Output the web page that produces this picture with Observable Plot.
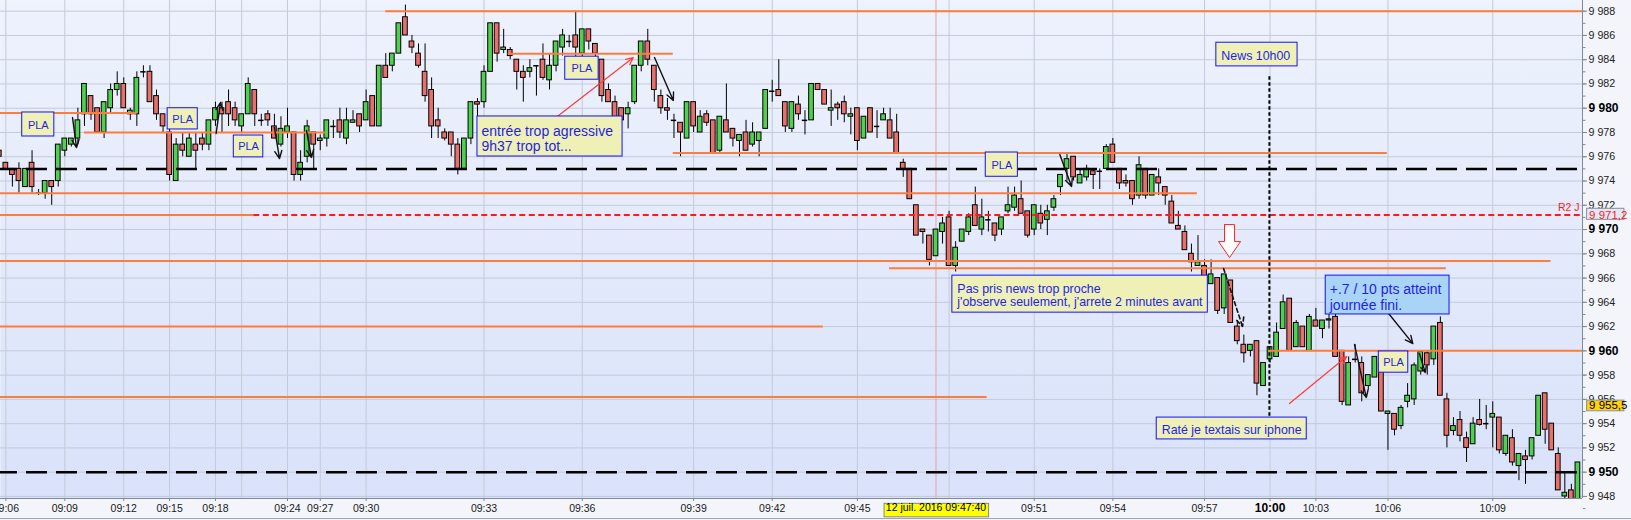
<!DOCTYPE html>
<html><head><meta charset="utf-8">
<script src="https://cdn.jsdelivr.net/npm/d3@7"></script>
<script src="https://cdn.jsdelivr.net/npm/@observablehq/plot@0.6"></script>
<style>
html,body{margin:0;padding:0;background:#f3f5fa;}
#chart{width:1631px;height:520px;overflow:hidden;}
svg{display:block;}
</style></head><body><div id="chart"></div>
<script>
// ---- candle data (one candle per index) ----
const opens = [
9976.5,9975.5,9975,9975,9973.5,9975.5,9973,9973,9974,9974,
9976.5,9977,9977.5,9979.5,9981,9980,9978,9980,9981.5,9982,
9979.5,9979.5,9983,9983,9981,9979.5,9978,9974,9977,9976,
9977,9977.5,9977,9979,9980,9980.5,9980,9978.5,9979.5,9981.5,
9979,9979.5,9978.5,9977,9978,9978,9974.5,9976,9978,9977.3,
9977.5,9978.5,9979,9977.5,9978.8,9979.5,9979,9981,9978.5,9983.5,
9983.5,9984.5,9987.5,9985.5,9984.5,9983,9981.5,9979,9978,9978,
9977,9975,9977.5,9980.5,9980.5,9983,9987,9984.8,9984.8,9984,
9983,9983,9983.5,9984,9982.3,9983.5,9985,9985.5,9986,9984.5,
9986.5,9985.3,9984,9981.5,9980.5,9980,9979.5,9980.5,9983.5,9985.5,
9983.5,9981,9980,9979,9978.8,9977.5,9980.5,9978,9979.5,9979,
9976.5,9979,9978.3,9977.3,9978,9977,9977.3,9978.3,9981.4,9981.5,
9980.5,9978.3,9980.3,9979,9979,9982,9981.5,9979.8,9980.3,9980.5,
9979.3,9980,9977.5,9980,9978.5,9979,9979,9978,9975.5,9975,
9972,9970,9969.5,9967.8,9969.8,9971,9967,9969,9969.8,9972,
9970,9970.8,9970.5,9970,9971.5,9971.8,9972.5,9971.5,9970,9971.3,
9970.8,9971.8,9973.5,9975,9976,9973.8,9974.3,9974.8,9974.8,9975,
9977,9975,9974,9974,9972.8,9975,9972.8,9974.3,9973.5,9972.3,
9970.3,9969.8,9968,9967,9967,9965.5,9966,9963.5,9965.8,9962,
9960.5,9960,9960.8,9957.1,9959.3,9959.5,9961.8,9964.3,9960.3,9962,
9960,9962.5,9961.8,9962.5,9962.8,9960,9955.5,9959.3,9959,9957.1,
9957.8,9959,9954.8,9954.8,9953.8,9955.8,9956,9958.3,9959.8,9959.3,
9962.3,9956,9953.4,9954.3,9952.8,9952.3,9954.3,9954,9954.5,9954.5,
9951.5,9952.8,9950.5,9951.3,9951.3,9953,9956.5,9954,9951.5,9948,
9948.5,9947.5];
const highs = [
9977,9975.5,9975,9975.5,9975,9976.5,9973.3,9974,9974,9977,
9977.5,9977.5,9980,9982,9981,9980,9980.5,9982,9983,9982.5,
9980,9983,9983.5,9983.5,9981.5,9979.5,9978.5,9977.5,9978,9978,
9978,9978,9979,9980.5,9980.5,9981.5,9980.5,9979.5,9982.5,9981.5,
9979.5,9979.8,9979.5,9979.3,9980,9978,9976.5,9979,9978,9977.8,
9979,9979,9980,9980,9979.8,9979.5,9981.5,9981,9983.5,9984.5,
9984.5,9987,9988.5,9986,9985.3,9985.3,9982.5,9980,9978.3,9978,
9977.5,9977.5,9980.5,9980.8,9983.5,9987,9987,9986.5,9985,9984,
9983.5,9984,9983.5,9985.3,9984.5,9985.5,9986.5,9986,9988,9986.5,
9986.5,9985.3,9984,9982,9981,9980,9980.5,9983.5,9985.5,9986.5,
9983.5,9981.5,9980.8,9979.5,9978.8,9980.5,9980.5,9979.8,9979.8,9979,
9979.3,9982,9978.3,9977.8,9979,9978.8,9978,9981.5,9982.3,9984,
9980.5,9980.5,9981,9979.8,9982,9982,9981.5,9981.5,9980.5,9981,
9980,9980,9979.3,9980,9979.8,9980,9980,9979.5,9975.8,9975,
9972,9970,9969.5,9970,9971,9971.5,9969,9970,9971.3,9973.5,
9972.5,9971.5,9970.5,9971,9973.5,9973.5,9974,9971.5,9972,9972,
9972,9972.8,9974.5,9976.2,9976,9975,9975.3,9975,9975,9977,
9977.5,9975,9974.5,9974,9976,9975,9974.5,9975,9973.5,9972.8,
9971.5,9970.3,9968.8,9969.5,9967.5,9967.5,9966,9966.3,9965.8,9962.5,
9961.3,9960.5,9960.8,9959,9960.3,9962.3,9964.6,9964.3,9962.5,9962,
9963,9963.5,9962.5,9963,9963,9960,9959.5,9960.5,9959.5,9958,
9959.5,9959,9955,9954.8,9955.5,9957.3,9959,9960,9960,9962,
9962.8,9956.5,9954.5,9955,9953.3,9954.5,9956,9955.5,9955.8,9954.5,
9953,9953.5,9951.5,9951.8,9952.8,9956.3,9956.5,9954,9952,9950,
9949,9950.8];
const lows = [
9975.5,9975,9973.5,9973,9973.5,9973,9972.8,9972.5,9972,9973.5,
9976,9976.8,9977,9978.5,9979,9978,9977.5,9979.5,9981,9980,
9979,9978.5,9982.5,9980.5,9979,9978,9974,9974,9976,9976,
9975,9976.5,9976.5,9978.5,9978,9978.5,9978.5,9978,9979.5,9978.5,
9978.5,9978.5,9977.5,9976.8,9977.5,9974,9974,9975.5,9975,9976.5,
9976.8,9977.5,9977.5,9977,9978.8,9978,9979,9978.5,9978.5,9982.5,
9983,9984.5,9986,9984.5,9983.3,9980.5,9977.5,9977.5,9977.3,9976,
9974.5,9975,9977,9979.3,9980,9983,9983.8,9984.5,9984,9981.5,
9980.5,9982.5,9981,9982.3,9981.5,9983,9984.3,9985,9984,9983.5,
9984.8,9984,9980.5,9980.5,9979,9978,9978.3,9980.3,9983,9983.5,
9980.5,9979.5,9979,9977.5,9976,9977.5,9978,9978,9978.5,9976.3,
9976.3,9978,9976.8,9976,9976.5,9976.8,9976,9978.3,9980.5,9981,
9978,9978,9979,9977.8,9979,9981.5,9980.3,9978.5,9979,9978.8,
9977.8,9976.5,9977.5,9978,9977.5,9979,9977.5,9976.3,9974.3,9972.5,
9969.5,9968.8,9967,9967.8,9968.8,9967,9966.5,9969,9969.5,9970.3,
9969.5,9969.8,9969,9969.5,9971.3,9971.5,9971.3,9969.3,9969.5,9970,
9969.5,9971.5,9972.8,9974,9974,9973.8,9974,9973.3,9973.3,9975,
9975.5,9973.3,9973.5,9972,9972.5,9972.5,9972.8,9972.8,9972,9970.5,
9970,9968.3,9966.5,9967,9965.8,9965.5,9963,9963,9962.3,9960.5,
9959,9959.5,9956.3,9957.1,9959,9959.5,9961.8,9960,9960.3,9960.3,
9960,9962,9961,9961.8,9959.5,9955.5,9955.5,9959,9955.8,9956.8,
9957.8,9955,9951.8,9953,9953.5,9955.3,9955.5,9958,9958,9958.8,
9956.3,9952,9953,9952.5,9950.8,9952.3,9953.8,9953.5,9952,9951.5,
9951.3,9950.5,9949.3,9949,9951,9953,9952.3,9951.8,9948.5,9947.5,
9947,9947];
const closes = [
9976,9975,9974.5,9974,9975,9973.5,9973,9974,9973.5,9977,
9977.5,9977.5,9979,9982,9979.5,9978,9980.5,9981.5,9982,9980,
9979.8,9982.5,9983,9980.5,9979.5,9978.5,9974.5,9977,9976.5,9977.5,
9976.5,9977,9979,9980,9979.5,9979.5,9979,9979.5,9982,9979.5,
9979,9979,9977.5,9978.3,9978.5,9974.5,9975.5,9978.5,9977,9977.5,
9979,9978.5,9978,9979,9979,9978.5,9980.5,9978.5,9983.5,9982.5,
9984.5,9987,9986,9985,9983.5,9981,9978.5,9978.5,9977.5,9977,
9975,9977.5,9980.5,9980.3,9983,9987,9984.5,9985,9984.3,9983,
9982.5,9983.3,9983.5,9982.5,9983.5,9985.5,9986,9985.5,9985,9986.5,
9985.5,9984.5,9981,9980.5,9979,9979,9980,9983.5,9985.5,9984,
9981.5,9980,9979.8,9979,9978,9980.5,9978.5,9979.3,9978.8,9976.3,
9979.3,9978,9977.5,9977.8,9976.5,9978,9978,9981.5,9981.4,9981,
9978.5,9980.5,9979.5,9979,9982,9981.5,9980.3,9980,9980,9979.5,
9979.5,9977.3,9979.3,9978,9978.5,9979.5,9977.5,9976.3,9975,9972.5,
9969.5,9969.8,9967.5,9970,9970.5,9967,9968.5,9970,9971,9970.3,
9971,9970.8,9969.5,9971,9972,9972.8,9971.3,9969.5,9972,9970.5,
9971.5,9972.5,9974.5,9975.8,9974.3,9974.5,9975,9974.5,9974.8,9976.8,
9975.5,9973.8,9973.8,9972.5,9975.3,9972.8,9974.5,9973.8,9972.8,9970.5,
9970,9968.3,9967.3,9967.3,9965.8,9966.3,9963.3,9966.3,9962.3,9960.8,
9959.8,9960.5,9957.3,9959,9960.3,9961.5,9964,9960,9962.3,9960.3,
9962.8,9962,9962.5,9962.6,9959.5,9955.8,9959,9959.3,9956.5,9958,
9959.5,9955,9955,9953.5,9955.3,9956.3,9958.8,9959.9,9958.8,9962,
9956.3,9953,9953.8,9953,9952,9954,9953.9,9954,9954.8,9951.8,
9953,9950.8,9951.5,9951,9952.8,9956.3,9953.5,9951.8,9948.5,9948.3,
9947.5,9950.8];

// ---- time axis: candle index of each labelled tick ----
const tickIndex = [1,10,19,26,33,44,49,56,74,89,106,118,131,158,170,184,194,201,212,228];
const tickLabels = ["09:06","09:09","09:12","09:15","09:18","09:24","09:27","09:30","09:33","09:36","09:39","09:42","09:45","09:51","09:54","09:57","10:00","10:03","10:06","10:09"];
const hiddenTickIndex = [37,145];
const crosshairIndex = 143;
const crosshairLabel = "12 juil. 2016 09:47:40";
const crosshairPrice = 9955.5;

// ---- price axis ----
const priceMajor = d3.range(9948, 9989, 2);
const priceMinor = d3.range(9947, 9989, 1);

// ---- horizontal levels (price, from index, to index) ----
const levelPrices = [9988, 9979.6, 9978, 9973, 9971.2, 9967.4, 9962, 9956.2, 9984.5, 9976.3, 9966.8, 9960];
const levelFrom   = [59,   0,      13,   0,    0,      0,      0,    0,      77.7,   102.9,  135.9,  193.8];
const levelTo     = [241.7,21.05,  49.8, 182.9,38.85,  236.9,  125.8,150.8,  102.9,  211.9,  220.9,  241.7];
const pivotLevels = [9975, 9950];
const r2Price = 9971.2, r2From = 38.85, r2To = 241.7, r2Label = "R2 J";
const newsIndex = 193.9, newsTop = 9982.6, newsBottom = 9954.25;

// ---- annotations ----
const plaBoxes = [
  [3.5, 8.4, 9979.65, 9977.67],
  [25.7, 30.3, 9980.0, 9978.25],
  [35.8, 40.3, 9977.75, 9975.95],
  [86.4, 91.5, 9984.25, 9982.35],
  [150.6, 155.5, 9976.35, 9974.35],
  [210.6, 215.1, 9959.95, 9958.2]
];
const noteBoxes = [
  {i1:73.0, i2:95.15, v1:9979.32, v2:9976.02, text:"entrée trop agressive\n9h37 trop tot...", big:true},
  {i1:145.5, i2:184.5, v1:9966.2, v2:9963.15, text:"Pas pris news trop proche\nj'observe seulement, j'arrete 2 minutes avant", big:false},
  {i1:185.8, i2:198.2, v1:9985.4, v2:9983.45, text:"News 10h00", big:false},
  {i1:176.7, i2:199.6, v1:9954.5, v2:9952.7, text:"Raté je textais sur iphone", big:false},
  {i1:202.5, i2:221.4, v1:9966.2, v2:9963.0, text:"+.7 / 10 pts atteint\njournée fini.", big:true, sky:true}
];
const blackArrows = [
  [11.18, 9979.23, 11.79, 9976.76],
  [33.1, 9977.92, 33.77, 9980.47],
  [42.0, 9978.41, 42.78, 9975.85],
  [46.9, 9978.16, 47.66, 9975.94],
  [100.03, 9984.18, 102.9, 9980.64],
  [161.9, 9976.18, 163.7, 9973.55],
  [206.9, 9960.52, 208.7, 9956.15],
  [212.1, 9963.08, 215.8, 9960.6],
  [216.8, 9959.78, 217.7, 9958.21]
];
const dashedArrows = [[186.9, 9966.79, 189.8, 9962.0]];
const redArrows = [
  [84.0, 9978.82, 96.8, 9984.18],
  [196.97, 9955.66, 205.7, 9959.53]
];
const hollowArrow = [
  [187.05, 9970.41],[188.58, 9970.41],[188.58, 9969.01],[189.5, 9969.01],
  [187.82, 9967.69],[186.14, 9969.01],[187.05, 9969.01],[187.05, 9970.41]
];

// ---- build ----
const candles = opens.map((o, i) => ({i, o, h: highs[i], l: lows[i], c: closes[i]}));
const bodies = candles.filter(d => d.o !== d.c);
const dojis = candles.filter(d => d.o === d.c);
const levels = levelPrices.map((p, k) => ({p, a: levelFrom[k], b: levelTo[k]}));
const ticks = tickIndex.map((i, k) => ({i, label: tickLabels[k]}));
const fmtP = v => {
  const s = Number.isInteger(v) ? d3.format(",.0f")(v) : d3.format(",.1f")(v);
  return s.replace(",", " ").replace(".", ",");
};
const xDomain = [0.183, 241.7];
const yDomain = [9947.83, 9988.88];
const BLUE = "#1f1fe6";
const FONT = "'Liberation Sans', Arial, sans-serif";
const hw = 0.36;

const svg = Plot.plot({
  width: 1631, height: 520,
  marginLeft: 0, marginRight: 49, marginTop: 0, marginBottom: 22,
  x: {domain: xDomain, axis: null},
  y: {domain: yDomain, axis: null},
  style: {background: "transparent", fontFamily: FONT, overflow: "visible"},
  marks: [
    Plot.frame({fill: "url(#bgGrad)", stroke: null}),
    Plot.ruleY(priceMajor, {stroke: "#c3cad8", strokeWidth: 1}),
    Plot.ruleX([...tickIndex, ...hiddenTickIndex], {stroke: "#c3cad8", strokeWidth: 1}),
    Plot.ruleX([crosshairIndex], {stroke: "#e9a0a0", strokeWidth: 1}),
    // candles
    Plot.ruleX(candles, {x: "i", y1: "l", y2: "h", stroke: "#000", strokeWidth: 1, clip: true}),
    Plot.rect(bodies, {x1: d => d.i - hw, x2: d => d.i + hw, y1: "o", y2: "c",
      fill: d => d.c > d.o ? "#4fd04f" : "#e8706b", stroke: "#000", strokeWidth: 1, clip: true}),
    Plot.ruleY(dojis, {y: "c", x1: d => d.i - hw - 0.05, x2: d => d.i + hw + 0.05, stroke: "#000", strokeWidth: 1.5, clip: true}),
    // levels
    Plot.ruleY(levels, {y: "p", x1: "a", x2: "b", stroke: "#ff7d3c", strokeWidth: 2}),
    Plot.ruleY([{p: r2Price}], {y: "p", x1: r2From, x2: r2To, stroke: "#ff1a1a", strokeWidth: 2, strokeDasharray: "6,3.5"}),
    Plot.ruleY(pivotLevels, {stroke: "#000", strokeWidth: 2.5, strokeDasharray: "21,9", strokeDashoffset: 4}),
    Plot.ruleX([newsIndex], {y1: newsTop, y2: newsBottom, stroke: "#000", strokeWidth: 2, strokeDasharray: "3.5,2.5"}),
    // arrows
    Plot.arrow(blackArrows, {x1: d => d[0], y1: d => d[1], x2: d => d[2], y2: d => d[3], stroke: "#111", strokeWidth: 1.4, headLength: 9, headAngle: 50}),
    Plot.arrow(dashedArrows, {x1: d => d[0], y1: d => d[1], x2: d => d[2], y2: d => d[3], stroke: "#111", strokeWidth: 1.6, headLength: 9, headAngle: 50, strokeDasharray: "4,3"}),
    Plot.arrow(redArrows, {x1: d => d[0], y1: d => d[1], x2: d => d[2], y2: d => d[3], stroke: "#ff3b3b", strokeWidth: 1.2, headLength: 10, headAngle: 50}),
    Plot.line(hollowArrow, {x: d => d[0], y: d => d[1], stroke: "#ff2020", fill: "#ffffff", strokeWidth: 1}),
    // PLA boxes
    Plot.rect(plaBoxes, {x1: d => d[0], x2: d => d[1], y1: d => d[2], y2: d => d[3], fill: "#eef0b6", stroke: "#1010ff", strokeWidth: 1}),
    Plot.text(plaBoxes, {x: d => (d[0] + d[1]) / 2, y: d => (d[2] + d[3]) / 2, text: () => "PLA", fill: BLUE, fontSize: 11, dy: 0.5}),
    // notes
    Plot.rect(noteBoxes, {x1: "i1", x2: "i2", y1: "v1", y2: "v2", fill: d => d.sky ? "#a9d4f6" : "#eef0b6", stroke: "#1010ff", strokeWidth: 1}),
    Plot.text(noteBoxes.filter(d => d.big), {x: "i1", y: d => (d.v1 + d.v2) / 2, text: "text", textAnchor: "start", dx: 4, dy: 2, fill: BLUE, fontSize: 14, lineHeight: 1.1}),
    Plot.text(noteBoxes.filter(d => !d.big), {x: "i1", y: d => (d.v1 + d.v2) / 2, text: "text", textAnchor: "start", dx: 5, dy: 1, fill: BLUE, fontSize: 12.4, lineHeight: 1.06}),
    // right axis
    Plot.ruleX([xDomain[1]], {stroke: "#7d8a9b", strokeWidth: 1}),
    Plot.ruleY([yDomain[0]], {stroke: "#7d8a9b", strokeWidth: 1}),
    Plot.axisY(priceMinor, {anchor: "right", tickSize: 2.5, tickFormat: () => "", stroke: "#7d8a9b"}),
    Plot.axisY(priceMajor.filter(v => v % 10 !== 0), {anchor: "right", tickSize: 4, tickPadding: 2, tickFormat: fmtP, fontSize: 10.7, stroke: "#7d8a9b", fill: "#222"}),
    Plot.axisY(priceMajor.filter(v => v % 10 === 0), {anchor: "right", tickSize: 4, tickPadding: 2, tickFormat: fmtP, fontSize: 12, fontWeight: "bold", stroke: "#7d8a9b", fill: "#000"}),
    Plot.text([r2Label], {x: 241.25, y: 9971.84, text: d => d, textAnchor: "end", fill: "#ff1a1a", fontSize: 10.5}),
    Plot.rect([r2Price], {x1: 242.4, x2: 248.1, y1: 9971.71, y2: 9970.8, fill: "#e3e8f4", stroke: "#8592a4"}),
    Plot.text([r2Price], {x: 242.7, y: d => d, text: fmtP, textAnchor: "start", fill: "#ff1a1a", fontSize: 11.5}),
    Plot.rect([crosshairPrice], {x1: 242.4, x2: 248.1, y1: 9955.9, y2: 9955.02, fill: "#ffd20a", stroke: "#8592a4"}),
    Plot.text([crosshairPrice], {x: 242.7, y: d => d, text: fmtP, textAnchor: "start", fill: "#000", fontSize: 11.5}),
    // bottom axis
    Plot.axisX(tickIndex, {anchor: "bottom", tickSize: 3, tickFormat: () => "", stroke: "#7d8a9b"}),
    Plot.text(ticks.filter(d => d.label !== "10:00"), {x: "i", text: "label", frameAnchor: "bottom", dy: 13, fontSize: 10.5, fill: "#1a1a1a"}),
    Plot.text(ticks.filter(d => d.label === "10:00"), {x: "i", text: "label", frameAnchor: "bottom", dy: 13, fontSize: 12, fontWeight: "bold", fill: "#000"}),
    Plot.rect([crosshairLabel], {x1: 135.15, x2: 151.1, y1: 9947.39, y2: 9946.28, fill: "#ffff00", stroke: "#808890"}),
    Plot.text([crosshairLabel], {x: crosshairIndex, text: d => d, frameAnchor: "bottom", dy: 12, fontSize: 10.5, fill: "#000"}),
    Plot.ruleY([9946.18], {stroke: "#9aa5b4", strokeWidth: 1, x1: -2, x2: 250})
  ]
});

const defs = d3.select(svg).insert("defs", ":first-child");
const g = defs.append("linearGradient").attr("id", "bgGrad").attr("x1", 0).attr("y1", 0).attr("x2", 0).attr("y2", 1);
g.append("stop").attr("offset", "0%").attr("stop-color", "#eef2fd");
g.append("stop").attr("offset", "100%").attr("stop-color", "#d9e2fa");
document.getElementById("chart").appendChild(svg);
</script>
</body></html>
